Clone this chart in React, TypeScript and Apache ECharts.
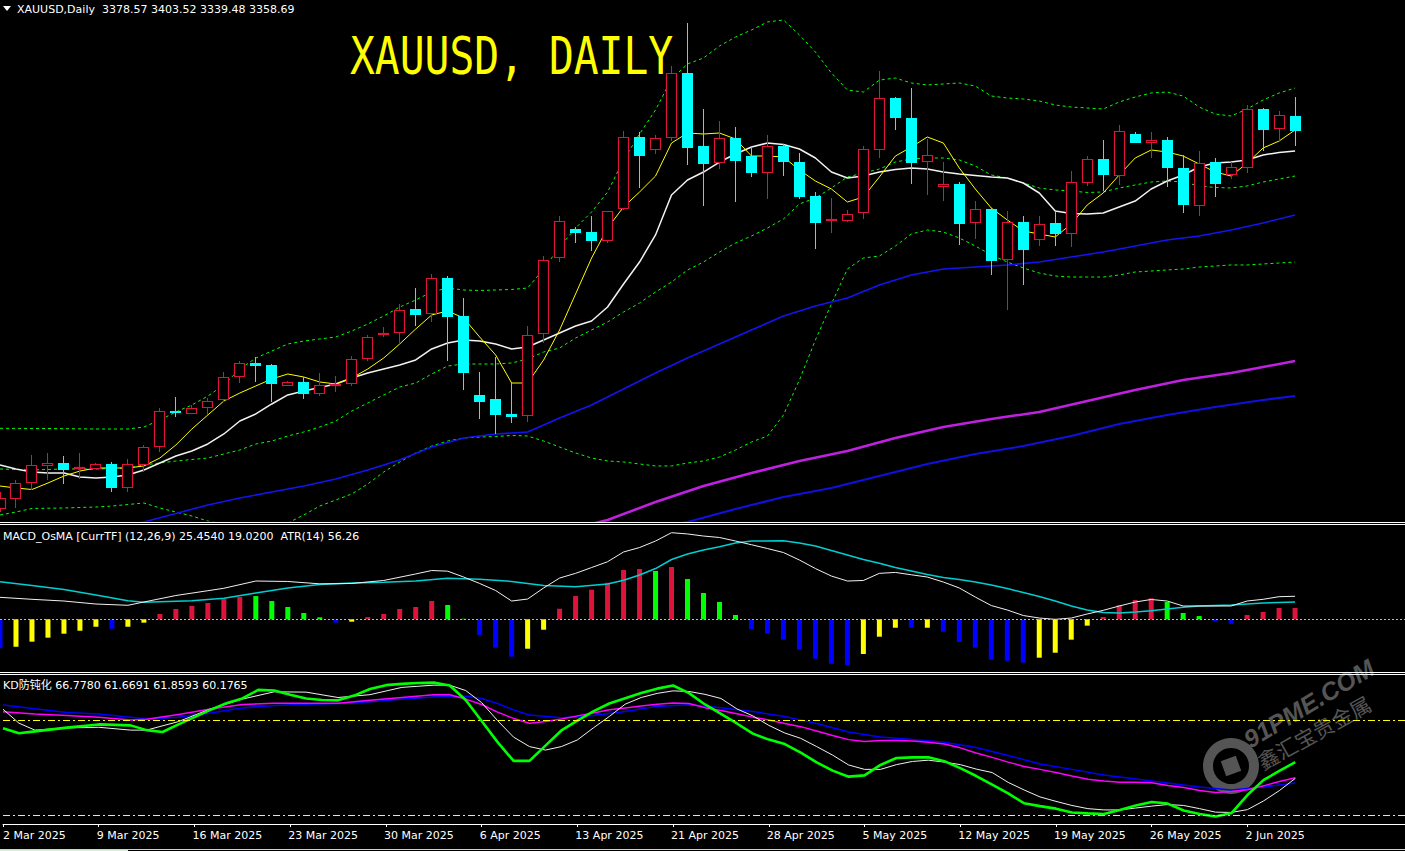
import React, { useEffect, useRef } from "react";
import * as echarts from "echarts";

// ---------- candle data, index k = -1 .. 80 (Mar 2 2025 .. Jun 2025) ----------
const FIRST_K = -1;
const opens = [
  2859.3, 2872.5, 2893.6, 2916.8, 2920.0, 2912.1, 2912.9, 2919.1, 2887.8, 2917.4,
  2941.1, 2989.0, 2985.5, 2992.6, 3003.2, 3033.5, 3052.0, 3049.8, 3022.4, 3026.9,
  3011.9, 3022.4, 3024.3, 3057.3, 3089.0, 3091.6, 3123.7, 3116.7, 3164.6, 3114.4,
  3010.2, 3004.9, 2985.1, 2982.0, 3090.3, 3190.6, 3229.3, 3225.3, 3213.0, 3255.3,
  3350.7, 3333.2, 3349.0, 3435.6, 3338.8, 3316.0, 3349.4, 3325.6, 3302.8, 3338.8,
  3317.7, 3272.8, 3239.4, 3240.2, 3250.0, 3333.2, 3402.2, 3375.8, 3317.3, 3284.3,
  3288.7, 3237.6, 3255.7, 3188.0, 3238.1, 3214.4, 3236.8, 3223.1, 3290.4, 3321.7,
  3299.6, 3354.7, 3343.2, 3346.8, 3309.8, 3260.0, 3317.7, 3300.2, 3310.2, 3387.3,
  3360.9, 3378.57,
];
const highs = [
  2882.1, 2898.0, 2931.0, 2933.6, 2929.6, 2933.6, 2921.0, 2921.7, 2925.7, 2944.2,
  2993.0, 3007.1, 2997.0, 3005.8, 3040.1, 3055.4, 3059.9, 3050.5, 3028.6, 3034.3,
  3038.8, 3035.2, 3061.6, 3089.4, 3099.5, 3129.9, 3151.4, 3169.9, 3167.6, 3138.2,
  3040.5, 3059.9, 3025.6, 3101.2, 3193.6, 3246.4, 3232.3, 3246.4, 3253.5, 3358.6,
  3356.9, 3353.4, 3444.4, 3500.9, 3387.7, 3371.8, 3363.9, 3337.1, 3353.4, 3341.1,
  3330.0, 3278.1, 3270.2, 3254.4, 3338.8, 3437.8, 3403.5, 3415.4, 3348.1, 3317.7,
  3290.9, 3266.2, 3257.0, 3253.0, 3246.8, 3246.8, 3251.7, 3305.8, 3325.2, 3346.8,
  3366.6, 3357.3, 3357.3, 3350.7, 3326.6, 3332.2, 3323.0, 3317.3, 3393.0, 3389.0,
  3385.0, 3403.52,
];
const lows = [
  2855.7, 2861.4, 2884.8, 2898.0, 2893.1, 2899.7, 2912.0, 2882.5, 2882.5, 2908.9,
  2935.3, 2980.7, 2985.0, 2983.8, 3001.0, 3025.6, 3027.7, 3000.5, 3021.5, 3004.5,
  3009.2, 3014.5, 3022.0, 3055.0, 3086.3, 3078.4, 3101.6, 3106.9, 3055.4, 3017.2,
  2978.9, 2958.7, 2972.8, 2974.9, 3079.2, 3186.0, 3211.2, 3200.2, 3211.2, 3254.0,
  3283.8, 3328.7, 3346.0, 3314.2, 3260.0, 3308.1, 3265.3, 3298.3, 3268.5, 3299.6,
  3268.5, 3203.3, 3223.6, 3239.0, 3242.1, 3323.4, 3360.0, 3289.1, 3274.2, 3266.6,
  3208.6, 3216.5, 3169.0, 3122.4, 3155.8, 3207.2, 3207.2, 3205.9, 3286.4, 3279.8,
  3287.4, 3342.4, 3323.4, 3285.1, 3250.8, 3246.8, 3271.9, 3295.7, 3302.8, 3332.6,
  3344.5, 3339.48,
];
const closes = [
  2874.6, 2893.6, 2917.4, 2920.0, 2911.2, 2914.7, 2918.7, 2887.8, 2918.7, 2941.1,
  2988.6, 2987.7, 2992.6, 3002.2, 3033.5, 3052.0, 3048.8, 3025.1, 3026.9, 3011.9,
  3023.0, 3024.7, 3057.7, 3086.3, 3091.6, 3122.0, 3116.2, 3164.2, 3113.5, 3039.6,
  3001.3, 2984.2, 2981.5, 3089.0, 3188.0, 3239.4, 3224.4, 3213.8, 3252.6, 3350.3,
  3326.0, 3349.0, 3435.2, 3336.6, 3315.5, 3349.0, 3319.4, 3303.6, 3338.8, 3318.1,
  3271.9, 3237.6, 3242.1, 3249.1, 3334.9, 3402.2, 3376.2, 3316.8, 3326.6, 3288.3,
  3236.3, 3255.7, 3187.4, 3238.1, 3202.0, 3235.5, 3223.1, 3290.9, 3321.3, 3301.0,
  3358.6, 3343.2, 3346.8, 3310.2, 3261.4, 3316.0, 3289.1, 3310.7, 3387.3, 3360.4,
  3379.4, 3358.69,
];

// ---------- main panel indicators ----------
const bbUpper = [
  2966.2, null, null, 2965.9, null, null, 2965.3, null, 2965.3, 2967.9,
  2977.2, 2987.7, 2997.0, 3008.8, 3023.4, 3044.5, 3059.0, 3068.2, 3077.5, 3081.4,
  3084.1, 3086.7, 3094.6, 3103.9, 3114.4, 3126.3, 3135.6, 3146.1, 3151.4, 3148.8,
  3148.1, 3148.8, 3149.4, 3151.4, 3176.5, 3205.5, 3230.6, 3251.7, 3278.1, 3320.4,
  3354.7, 3386.4, 3427.3, 3447.1, 3455.0, 3470.8, 3482.7, 3492.0, 3502.5, 3505.2,
  3485.4, 3462.9, 3435.2, 3412.8, 3410.1, 3425.8, 3428.6, 3422.0, 3419.4, 3420.7,
  3422.0, 3418.0, 3404.8, 3402.2, 3400.9, 3398.2, 3393.0, 3390.3, 3389.0, 3387.7,
  3396.9, 3403.5, 3408.8, 3410.1, 3404.8, 3390.3, 3381.1, 3378.4, 3387.7, 3399.6,
  3408.8, 3415.4,
];
const bbMiddle = [
  2912.5, null, 2911.2, null, 2912.5, null, 2912.5, null, 2913.8, 2917.8,
  2920.4, 2923.0, 2925.0, 2927.0, 2932.3, 2937.6, 2945.5, 2949.4, 2956.0, 2961.3,
  2967.9, 2975.8, 2989.0, 2999.6, 3010.2, 3020.7, 3026.0, 3037.9, 3048.4, 3051.1,
  3051.1, 3051.1, 3052.4, 3057.7, 3066.9, 3072.2, 3085.4, 3096.0, 3106.5, 3119.7,
  3131.6, 3146.1, 3159.3, 3175.2, 3185.7, 3198.9, 3210.8, 3220.0, 3230.6, 3242.5,
  3262.3, 3270.2, 3283.4, 3297.9, 3303.2, 3308.5, 3317.7, 3321.7, 3323.0, 3323.0,
  3320.4, 3312.5, 3300.6, 3296.6, 3290.0, 3283.4, 3280.8, 3279.4, 3277.5, 3278.1,
  3283.4, 3287.4, 3291.3, 3292.6, 3291.3, 3286.1, 3284.1, 3283.4, 3286.1, 3291.3,
  3295.3, 3299.2,
];
const bbLower = [
  2851.8, 2855.7, 2860.4, null, 2861.0, null, 2862.3, 2863.6, 2865.6, 2867.6,
  2861.0, 2855.7, 2850.4, 2843.8, 2839.9, 2832.0, 2829.3, 2833.3, 2841.2, 2851.8,
  2863.6, 2871.6, 2879.5, 2892.7, 2908.5, 2921.7, 2933.6, 2942.8, 2949.4, 2953.4,
  2954.7, 2955.4, 2956.7, 2956.0, 2949.4, 2941.5, 2933.6, 2927.0, 2923.1, 2921.7,
  2919.1, 2916.5, 2916.5, 2920.4, 2923.1, 2928.3, 2937.6, 2948.1, 2956.0, 2983.8,
  3030.0, 3082.8, 3130.3, 3176.5, 3191.0, 3193.6, 3206.8, 3222.7, 3228.0, 3225.3,
  3217.4, 3206.8, 3195.0, 3185.7, 3177.8, 3171.2, 3167.2, 3165.9, 3165.9, 3165.9,
  3168.6, 3172.5, 3173.8, 3175.2, 3176.5, 3179.1, 3180.4, 3181.8, 3181.8, 3183.1,
  3184.4, 3185.7,
];
const ma5 = [
  2890.0, 2887.4, 2885.4, 2894.0, 2903.2, 2909.8, 2913.8, 2913.8, 2913.8, 2916.5,
  2927.0, 2944.2, 2965.3, 2983.8, 3002.2, 3012.8, 3022.1, 3031.3, 3037.9, 3033.9,
  3027.3, 3024.7, 3032.6, 3044.5, 3059.0, 3077.5, 3097.3, 3115.8, 3121.1, 3111.8,
  3086.7, 3063.0, 3026.0, 3026.0, 3056.4, 3096.0, 3143.5, 3191.0, 3230.6, 3258.3,
  3278.1, 3299.2, 3342.8, 3356.0, 3354.7, 3356.0, 3348.1, 3325.6, 3325.6, 3324.3,
  3307.2, 3292.6, 3282.1, 3264.9, 3271.5, 3297.9, 3325.6, 3337.5, 3350.7, 3342.8,
  3309.8, 3282.1, 3257.0, 3241.2, 3226.7, 3222.7, 3218.7, 3235.9, 3261.0, 3276.8,
  3300.6, 3323.0, 3333.6, 3330.9, 3325.6, 3315.1, 3304.5, 3299.2, 3316.4, 3336.2,
  3345.4, 3360.0,
];
const ma10 = [
  2917.8, 2912.5, 2908.5, 2907.2, 2907.2, 2901.9, 2900.6, 2901.9, 2904.6, 2911.2,
  2920.4, 2929.6, 2936.2, 2945.5, 2958.7, 2975.8, 2985.1, 2998.3, 3010.2, 3015.5,
  3020.1, 3024.7, 3032.6, 3039.2, 3044.5, 3049.8, 3056.4, 3070.9, 3078.8, 3082.8,
  3081.5, 3077.5, 3070.9, 3073.5, 3082.8, 3092.0, 3101.3, 3107.9, 3126.3, 3156.7,
  3185.7, 3221.4, 3274.2, 3294.0, 3304.5, 3317.7, 3328.3, 3337.5, 3342.8, 3340.8,
  3334.9, 3323.0, 3304.5, 3296.6, 3299.2, 3304.5, 3307.8, 3309.8, 3308.5, 3304.5,
  3301.9, 3299.9, 3297.9, 3296.6, 3290.0, 3276.8, 3253.0, 3249.7, 3249.1, 3250.4,
  3258.3, 3266.2, 3282.1, 3292.6, 3300.6, 3311.1, 3316.4, 3317.7, 3320.4, 3327.0,
  3330.3, 3332.2,
];
const maBlue: [number, number][] = [
  [7, 2838.6], [8, 2842.5], [10, 2853.7], [12, 2865.0], [14, 2874.2], [16, 2882.1], [18, 2890.1],
  [20, 2899.3], [22, 2911.2], [24, 2924.4], [26, 2941.5], [28, 2953.4], [30, 2958.7], [32, 2961.3],
  [34, 2979.8], [36, 2997.0], [38, 3018.1], [40, 3039.2], [42, 3059.0], [44, 3077.5], [46, 3096.0],
  [48, 3114.4], [50, 3127.6], [52, 3138.2], [54, 3155.4], [56, 3168.6], [58, 3176.5], [60, 3179.1],
  [62, 3181.8], [64, 3185.7], [66, 3192.3], [68, 3198.9], [70, 3206.8], [72, 3214.8], [74, 3220.0],
  [76, 3228.0], [78, 3237.2], [80, 3247.8],
];
const maMagenta: [number, number][] = [
  [36, 2839.9], [37, 2845.2], [40, 2868.9], [43, 2890.0], [46, 2907.2], [49, 2923.1], [52, 2936.3],
  [55, 2953.4], [58, 2967.9], [61, 2978.5], [64, 2987.7], [67, 3002.2], [70, 3016.8], [73, 3030.0],
  [76, 3039.2], [78, 3047.1], [80, 3055.0],
];
const maBlueLong: [number, number][] = [
  [41, 2838.6], [42, 2842.5], [45, 2859.7], [48, 2875.5], [51, 2887.4], [54, 2903.2], [57, 2919.1],
  [60, 2932.3], [63, 2942.8], [66, 2956.0], [69, 2971.9], [72, 2983.8], [75, 2994.3], [78, 3003.6],
  [80, 3008.8],
];

// ---------- MACD_OsMA panel ----------
const osma = [
  -32.0, -30.3, -24.7, -20.3, -15.9, -12.6, -8.2, -10.4, -8.2, -3.7,
  5.9, 11.4, 14.7, 18.0, 22.4, 24.6, 25.7, 20.2, 13.6, 7.0,
  2.2, -3.7, -2.6, 2.5, 5.9, 11.4, 13.6, 20.2, 15.8, 0.6,
  -17.3, -31.3, -41.3, -32.5, -11.5, 11.7, 25.7, 32.7, 40.4, 54.5,
  55.6, 53.4, 57.8, 44.5, 29.1, 19.1, 4.8, -10.7, -15.9, -22.5,
  -33.6, -43.5, -49.1, -50.5, -38.3, -19.2, -9.3, -9.3, -9.3, -13.7,
  -25.1, -31.3, -44.6, -45.8, -47.9, -42.4, -36.9, -22.5, -7.0, 2.5,
  15.5, 21.3, 23.2, 19.1, 7.0, 3.6, -2.6, -4.9, 4.8, 8.1,
  12.5, 12.5,
];
const osmaColorCodes =
  "BYYYYYYBYY" + "RRRRRRGGGG" + "GBYRRRRRGG" + "BBBYYRRRRR" + "RGRGGGGBBB" +
  "BBBBYYYBYB" + "BBBBBYYYYR" + "RRRGGGBBRR" + "RR";
const macdMain = [
  24.3, null, 22.1, null, 20.2, null, 16.9, null, 15.5, 19.1,
  null, 26.3, null, 31.6, 34.3, null, 42.3, null, 41.8, null,
  39.2, null, 39.6, null, 42.9, null, 50.1, 53.9, 53.2, 46.7,
  39.6, 31.8, 20.2, 22.4, 34.6, 45.6, 50.8, 57.2, 63.6, 74.4,
  79.3, 86.5, 95.7, 94.3, 92.0, 90.4, 86.5, 82.4, 78.2, 73.8,
  65.5, 56.1, 47.8, 42.3, 42.9, 50.8, 51.8, 49.2, 46.7, 41.2,
  34.6, 24.6, 15.2, 10.3, 4.2, 1.4, 0.0, 1.4, 5.9, 9.9,
  14.7, 19.1, 21.9, 20.2, 14.7, 14.7, 14.7, 14.7, 20.2, 22.1,
  25.0, 25.454,
];
const macdSignal = [
  41.5, null, 37.3, null, 32.9, null, 26.9, null, 20.4, 18.8,
  null, null, 20.6, null, 23.2, null, 29.1, null, 34.6, null,
  38.5, null, 40.1, null, 40.9, null, 42.3, null, 45.3, null,
  44.2, null, 41.8, null, 37.3, null, 36.0, null, 39.0, 43.1,
  49.0, 56.1, 66.1, 72.2, 76.6, 80.2, 84.3, 86.5, null, 86.9,
  84.3, 81.0, 76.0, 71.1, 66.1, 61.9, 57.2, 53.4, 49.5, 46.2,
  44.0, 41.2, 37.9, 34.0, 29.6, 25.2, 20.2, 14.7, 10.3, 7.5,
  7.0, 8.1, 9.5, 11.4, 13.3, 14.7, null, 15.8, null, 18.0,
  null, 19.02,
];

// ---------- KD panel ----------
const kdGreen = [
  77.5, 75.9, 76.5, null, 77.7, null, 78.7, null, 78.4, 76.9,
  76.3, 78.7, 81.0, 83.3, 85.4, 86.9, 89.6, 89.4, 88.1, 86.9,
  86.4, 86.3, 87.8, 89.9, 91.1, 91.5, 91.8, 91.9, 91.0, 86.4,
  79.8, 73.1, 67.2, 67.2, 72.0, 76.8, 79.9, 82.8, 85.3, 87.0,
  88.6, 90.0, 91.0, 88.6, 85.0, 82.0, 79.0, 75.8, 73.9, 72.5,
  69.8, 66.7, 64.1, 62.2, 62.6, 65.9, 68.1, 68.3, 68.3, 67.1,
  64.9, 62.4, 59.7, 56.9, 53.8, 52.9, 52.1, 50.9, 50.6, 50.4,
  51.7, 53.1, 54.2, 53.7, 51.5, 50.4, 49.6, 50.7, 56.4, 61.1,
  64.0, 66.778,
];
const kdWhite = [
  83.5, 79.1, 76.9, null, 77.6, null, 77.8, null, 76.9, 76.9,
  null, 79.6, null, 83.6, null, 86.7, null, 89.0, null, 88.9,
  null, 87.2, null, 88.1, null, 90.4, null, 91.1, 91.1, 89.4,
  85.6, 79.9, 74.7, 71.7, 70.6, 71.7, 73.8, 77.6, 81.2, 85.1,
  87.2, 88.5, 89.3, 89.1, 88.2, 86.9, 83.6, 81.4, 78.4, 76.0,
  74.3, 71.7, 69.0, 65.9, 64.5, 64.5, 66.0, 67.0, 67.4, 66.8,
  66.0, 64.6, 63.5, 60.4, 58.0, 55.8, 54.4, 53.1, 52.1, 51.7,
  51.7, 52.3, 52.9, 53.4, 53.1, 52.1, 51.0, 50.9, 51.8, 54.5,
  57.8, 61.669,
];
const kdMagenta = [
  82.7, null, 82.0, null, 81.5, null, 81.0, null, 80.1, 80.3,
  null, 81.8, null, 83.6, null, 85.0, null, 85.4, null, 85.4,
  null, 85.4, null, 86.3, null, 87.2, null, 88.1, 88.1, 86.7,
  85.0, 82.6, 80.6, 79.1, 79.6, 80.4, 81.4, 82.3, 83.3, 83.9,
  84.5, 85.1, 85.5, 85.3, 84.0, 83.1, 82.1, 81.0, 80.1, 79.0,
  78.0, 76.6, 75.2, 73.9, 73.3, 73.6, 73.6, 73.5, 73.1, 72.5,
  71.3, 69.7, 68.3, 66.8, 65.4, 64.5, 63.5, 62.4, 61.4, 60.8,
  60.4, 60.4, 60.3, 59.4, 58.8, 57.8, 57.2, 57.5, 58.1, 59.3,
  60.7, 61.859,
];
const kdBlue: [number, number][] = [
  [-1, 84.8], [3, 82.5], [5, 82.0], [7, 81.0], [8, 80.4], [10, 81.0], [12, 82.3], [14, 83.9],
  [16, 84.7], [18, 85.1], [20, 85.3], [22, 85.9], [24, 86.7], [26, 87.4], [28, 87.6], [29, 86.9],
  [30, 85.3], [31, 83.3], [32, 81.7], [34, 80.8], [36, 81.5], [38, 82.8], [40, 84.4], [42, 84.9],
  [44, 84.0], [46, 82.8], [48, 81.2], [50, 79.0], [52, 76.3], [54, 74.7], [56, 73.9], [58, 73.1],
  [60, 71.4], [62, 68.9], [64, 66.2], [66, 64.5], [68, 62.7], [70, 61.5], [72, 60.2], [74, 58.9],
  [76, 58.0], [78, 58.9], [80, 60.177],
];
const kdLevels = [80, 50];

// ---------- time axis ----------
const tickK = [-1, 5, 11, 17, 23, 29, 35, 41, 47, 53, 59, 65, 71, 77];
const tickLabels = [
  "2 Mar 2025", "9 Mar 2025", "16 Mar 2025", "23 Mar 2025", "30 Mar 2025", "6 Apr 2025",
  "13 Apr 2025", "21 Apr 2025", "28 Apr 2025", "5 May 2025", "12 May 2025", "19 May 2025",
  "26 May 2025", "2 Jun 2025",
];
const LABEL_SHIFT = 0.125; // labels start slightly left of their tick

const RED = "#DC143C";
const AQUA = "#00FFFF";
const OSMA_COLORS: Record<string, string> = { R: "#DC143C", G: "#00FF00", B: "#0000FF", Y: "#FFFF00" };
const FONT = "DejaVu Sans";

const pairs = (arr: (number | null)[]) =>
  arr.map((v, i) => (v == null ? null : [i + FIRST_K, v])).filter((p) => p !== null) as number[][];

const X_MIN = -1;
const X_MAX = 86.875;

function buildOption() {
  const candleData = opens.map((o, i) => [i + FIRST_K, o, closes[i], lows[i], highs[i]]);
  const labelK = tickK.map((k) => Math.max(X_MIN, k - LABEL_SHIFT));

  const line = (xi: number, data: number[][], color: string, width: number, type: any = "solid", z = 3) => ({
    type: "line",
    xAxisIndex: xi,
    yAxisIndex: xi,
    data,
    symbol: "none",
    showSymbol: false,
    connectNulls: true,
    silent: true,
    clip: true,
    z,
    lineStyle: { color, width, type },
  });

  const xAxes = [0, 1, 2].map((g) => ({
    type: "value",
    gridIndex: g,
    min: X_MIN,
    max: X_MAX,
    show: g === 2,
    axisLine: { show: g === 2, onZero: false, lineStyle: { color: "#ffffff", width: 1 } },
    axisTick: { show: g === 2, customValues: tickK, length: 3, lineStyle: { color: "#ffffff" } },
    axisLabel: {
      show: g === 2,
      customValues: labelK,
      showMinLabel: true,
      formatter: (v: number) => {
        const i = tickK.indexOf(Math.round(v + LABEL_SHIFT));
        return i >= 0 ? tickLabels[i] : "";
      },
      color: "#ffffff",
      fontFamily: FONT,
      fontSize: 11,
      align: "left",
      margin: 6,
    },
    splitLine: { show: false },
  }));

  const yAxes = [
    { gridIndex: 0, min: 2843.84, max: 3531.56 },
    { gridIndex: 1, min: -56.0, max: 104.2 },
    { gridIndex: 2, min: 47.25, max: 94.31 },
  ].map((a) => ({ type: "value", ...a, show: false, splitLine: { show: false } }));

  const series: any[] = [
    line(0, pairs(bbUpper), "#00FF00", 1, [3, 3]),
    line(0, pairs(bbMiddle), "#00FF00", 1, [3, 3]),
    line(0, pairs(bbLower), "#00FF00", 1, [3, 3]),
    line(0, maBlueLong, "#1010E0", 2),
    line(0, maMagenta, "#C020E0", 2.5),
    line(0, maBlue, "#1414F0", 1.6),
    line(0, pairs(ma10), "#F2F2F2", 1.5),
    line(0, pairs(ma5), "#FFFF00", 1),
    {
      type: "custom",
      xAxisIndex: 0,
      yAxisIndex: 0,
      z: 6,
      silent: true,
      clip: true,
      encode: { x: 0, y: [1, 2, 3, 4] },
      data: candleData,
      renderItem: (params: any, api: any) => {
        const k = api.value(0);
        const o = api.value(1);
        const c = api.value(2);
        const l = api.value(3);
        const h = api.value(4);
        const po = api.coord([k, o]);
        const pc = api.coord([k, c]);
        const pl = api.coord([k, l]);
        const ph = api.coord([k, h]);
        const col = Math.floor(po[0]);
        const cx = col + 0.5;
        const top = Math.round(Math.min(po[1], pc[1]));
        const bot = Math.round(Math.max(po[1], pc[1]));
        const yh = Math.round(ph[1]);
        const yl = Math.round(pl[1]);
        if (c > o) {
          return {
            type: "group",
            children: [
              { type: "line", shape: { x1: cx, y1: yh, x2: cx, y2: top }, style: { stroke: RED, lineWidth: 1 } },
              { type: "line", shape: { x1: cx, y1: bot, x2: cx, y2: yl }, style: { stroke: RED, lineWidth: 1 } },
              {
                type: "rect",
                shape: { x: cx - 5, y: top + 0.5, width: 10, height: Math.max(bot - top - 1, 1) },
                style: { fill: "#000000", stroke: RED, lineWidth: 1.2 },
              },
            ],
          };
        }
        return {
          type: "group",
          children: [
            { type: "line", shape: { x1: cx, y1: yh, x2: cx, y2: yl }, style: { stroke: AQUA, lineWidth: 1 } },
            {
              type: "rect",
              shape: { x: col - 5, y: top, width: 11, height: Math.max(bot - top, 2) },
              style: { fill: AQUA, stroke: "none" },
            },
          ],
        };
      },
    },
    // MACD panel
    {
      type: "bar",
      xAxisIndex: 1,
      yAxisIndex: 1,
      barWidth: 5,
      silent: true,
      z: 2,
      data: osma.map((v, i) => ({
        value: [i + FIRST_K, v],
        itemStyle: { color: OSMA_COLORS[osmaColorCodes[i]] },
      })),
      markLine: {
        silent: true,
        symbol: "none",
        label: { show: false },
        lineStyle: { color: "#7FD4D4", type: [2, 2], width: 1 },
        data: [{ yAxis: 0 }],
      },
    },
    line(1, pairs(macdSignal), "#00CED1", 1.5),
    line(1, pairs(macdMain), "#F0F0F0", 1),
    // KD panel
    {
      ...line(2, kdBlue, "#0000FF", 1.5),
      markLine: {
        silent: true,
        symbol: "none",
        label: { show: false },
        lineStyle: { color: "#FFFF00", type: [7, 3, 2, 3], width: 1 },
        data: kdLevels.map((v) => ({ yAxis: v })),
      },
    },
    line(2, pairs(kdMagenta), "#FF00FF", 1.5),
    line(2, pairs(kdWhite), "#F0F0F0", 1),
    line(2, pairs(kdGreen), "#00FF00", 2.6, "solid", 4),
  ];

  const hline = (y: number, color = "#ffffff") => ({
    type: "line",
    z: 100,
    shape: { x1: 0, y1: y, x2: 1405, y2: y },
    style: { stroke: color, lineWidth: 1 },
  });

  const graphic: any[] = [
    { type: "polygon", z: 100, shape: { points: [[3, 6], [11, 6], [7, 11]] }, style: { fill: "#ffffff" } },
    {
      type: "text",
      z: 100,
      x: 17,
      y: 9,
      style: {
        text: "XAUUSD,Daily  3378.57 3403.52 3339.48 3358.69",
        fill: "#ffffff",
        fontFamily: FONT,
        fontSize: 11,
        verticalAlign: "middle",
      },
    },
    {
      type: "text",
      z: 100,
      x: 350,
      y: 56,
      scaleX: 0.81,
      style: {
        text: "XAUUSD, DAILY",
        fill: "#FFFF00",
        fontFamily: "DejaVu Sans Mono",
        fontSize: 51,
        verticalAlign: "middle",
      },
    },
    {
      type: "text",
      z: 100,
      x: 3,
      y: 536,
      style: {
        text: "MACD_OsMA [CurrTF] (12,26,9) 25.4540 19.0200  ATR(14) 56.26",
        fill: "#ffffff",
        fontFamily: FONT,
        fontSize: 11,
        verticalAlign: "middle",
      },
    },
    {
      type: "text",
      z: 100,
      x: 3,
      y: 685,
      style: {
        text: "KD防钝化 66.7780 61.6691 61.8593 60.1765",
        fill: "#ffffff",
        fontFamily: "DejaVu Sans, Noto Sans CJK SC",
        fontSize: 11,
        verticalAlign: "middle",
      },
    },
    hline(522.5),
    hline(524.5),
    hline(672.5),
    hline(674.5),
    hline(849.5, "#d0d0d0"),
    { type: "rect", z: 100, shape: { x: 0, y: 850, width: 128, height: 1 }, style: { fill: "#d8f0d8" } },
    // watermark
    {
      type: "group",
      z: 90,
      children: [
        { type: "ring", shape: { cx: 1231, cy: 766, r: 28, r0: 18 }, style: { fill: "#555555" } },
        {
          type: "rect",
          x: 1231,
          y: 766,
          rotation: 0.35,
          shape: { x: -8, y: -8, width: 16, height: 16 },
          style: { fill: "#555555" },
        },
        {
          type: "text",
          x: 1252,
          y: 752,
          rotation: 0.54,
          style: {
            text: "91PME.COM",
            fill: "#555555",
            fontFamily: "Liberation Sans",
            fontSize: 25,
            fontWeight: "bold",
            fontStyle: "italic",
            verticalAlign: "bottom",
          },
        },
        {
          type: "text",
          x: 1264,
          y: 772,
          rotation: 0.51,
          style: {
            text: "鑫汇宝贵金属",
            fill: "#555555",
            fontFamily: "Noto Sans CJK SC",
            fontSize: 21,
            verticalAlign: "bottom",
          },
        },
      ],
    },
  ];

  return {
    animation: false,
    backgroundColor: "#000000",
    grid: [
      { left: -1, width: 1406, top: 0, height: 521 },
      { left: -1, width: 1406, top: 525, height: 145 },
      { left: -1, width: 1406, top: 675, height: 149 },
    ],
    xAxis: xAxes,
    yAxis: yAxes,
    series,
    graphic,
  };
}

export default function App() {
  const ref = useRef<HTMLDivElement>(null);
  useEffect(() => {
    document.body.style.margin = "0";
    document.body.style.background = "#000";
    const chart = echarts.init(ref.current as HTMLDivElement, null, { renderer: "svg" });
    chart.setOption(buildOption() as any);
    return () => chart.dispose();
  }, []);
  return (
    <div
      ref={ref}
      style={{ position: "fixed", left: 0, top: 0, width: 1405, height: 851, background: "#000" }}
    />
  );
}
